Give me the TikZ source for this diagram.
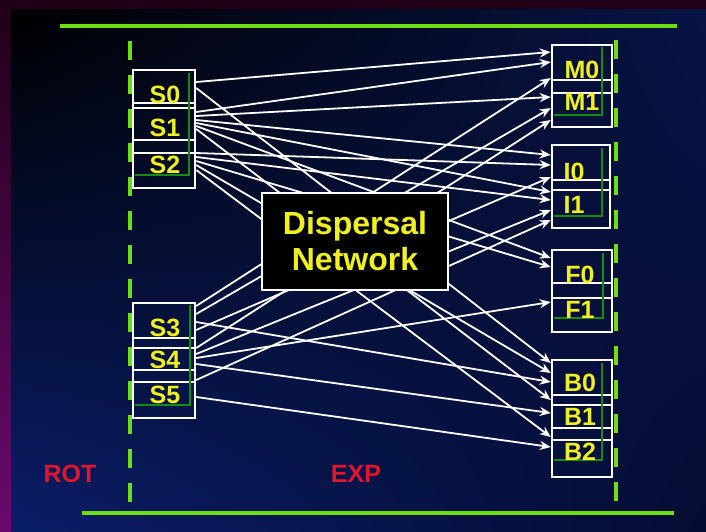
\documentclass[tikz,border=0pt]{standalone}
\usepackage{fontspec}
\setmainfont{Liberation Sans}
\usetikzlibrary{arrows.meta,shadings}
\definecolor{grn}{RGB}{110,222,20}
\definecolor{dgrn}{RGB}{20,140,20}
\definecolor{yel}{RGB}{240,240,30}
\definecolor{redl}{RGB}{225,22,45}
\definecolor{navyA}{RGB}{8,20,70}
\definecolor{navyB}{RGB}{10,30,105}
\definecolor{navyC}{RGB}{4,12,50}
\definecolor{purp}{RGB}{105,10,110}
\definecolor{maro}{RGB}{32,0,22}
\tikzset{
  port/.style={draw=white, line width=2.4pt, inner sep=0pt, minimum width=#1},
  port/.default=62pt,
  lab/.style={text=yel, inner sep=0pt, font=\fontsize{25}{25}\selectfont\bfseries},
  side/.style={text=redl, inner sep=0pt, font=\fontsize{25}{25}\selectfont\bfseries},
  wire/.style={draw=white, line width=1.8pt, -{Stealth[length=11pt,width=9pt]}},
  rail/.style={draw=grn, line width=3.5pt},
  dashrail/.style={draw=grn, line width=4.5pt, dash pattern=on 19pt off 15pt},
  inner/.style={draw=dgrn, line width=2pt}
}
\begin{document}
\begin{tikzpicture}[x=1pt,y=-1pt]
\useasboundingbox (0,0) rectangle (706,531);
% background
\shade[upper left=black, upper right=navyA, lower left=navyB, lower right=navyC] (11,9) rectangle (706,531);
\shade[top color=maro, bottom color=purp] (0,0) rectangle (11,531);
\fill[maro] (0,0) rectangle (706,9);
% green rails
\draw[rail] (60,26) -- (677,26);
\draw[rail] (82,513) -- (674,513);
\draw[dashrail] (130,502) -- (130,30);
\draw[dashrail] (616,501) -- (616,26);
% source ports
\node[port, minimum height=38pt] (S0) at (164,89) {};
\node[port, minimum height=50pt] (S1) at (164,128) {};
\node[port, minimum height=48pt] (S2) at (164,164) {};
\node[port, minimum height=45pt] (S3) at (164,325.5) {};
\node[port, minimum height=44pt] (S4) at (164,360) {};
\node[port, minimum height=48pt] (S5) at (164,394) {};
% destination ports
\node[port=60pt, minimum height=48pt] (M0) at (582,69) {};
\node[port=60pt, minimum height=47pt] (M1) at (582,103.5) {};
\node[port=58pt, minimum height=45pt] (I0) at (581,167.5) {};
\node[port=58pt, minimum height=48pt] (I1) at (581,204) {};
\node[port=60pt, minimum height=48pt] (F0) at (582,274) {};
\node[port=60pt, minimum height=49pt] (F1) at (582,307.5) {};
\node[port=60pt, minimum height=45pt] (B0) at (582,382.5) {};
\node[port=60pt, minimum height=45pt] (B1) at (582,417.5) {};
\node[port=60pt, minimum height=49pt] (B2) at (582,452.5) {};
% inner green shadows
\draw[inner] (135,175) -- (189,175) -- (189,73);
\draw[inner] (135,405) -- (190,405) -- (190,305);
\draw[inner] (554,115) -- (602,115) -- (602,47);
\draw[inner] (554,216) -- (602,216) -- (602,148);
\draw[inner] (554,318) -- (603,318) -- (603,253);
\draw[inner] (554,460) -- (602,460) -- (602,363);
% labels
\node[lab] (tS0) at (165,95) {S0};
\node[lab] (tS1) at (165,128) {S1};
\node[lab] (tS2) at (165,165) {S2};
\node[lab] (tS3) at (165,328) {S3};
\node[lab] (tS4) at (165,360) {S4};
\node[lab] (tS5) at (165,395) {S5};
\node[lab] (tM0) at (582,70) {M0};
\node[lab] (tM1) at (582,102) {M1};
\node[lab] (tI0) at (574,172) {I0};
\node[lab] (tI1) at (574,205) {I1};
\node[lab] (tF0) at (580,275) {F0};
\node[lab] (tF1) at (580,310) {F1};
\node[lab] (tB0) at (580,383) {B0};
\node[lab] (tB1) at (580,417) {B1};
\node[lab] (tB2) at (580,452) {B2};
% connections
\draw[wire] ([yshift=7pt]S0.east) -- ([yshift=17pt]M0.west);
\draw[wire] ([yshift=1pt]S0.east) -- ([yshift=19.5pt]B0.west);
\draw[wire] ([yshift=16pt]S1.east) -- ([yshift=7pt]M0.west);
\draw[wire] ([yshift=12pt]S1.east) -- ([yshift=6.5pt]M1.west);
\draw[wire] ([yshift=8pt]S1.east) -- ([yshift=12.5pt]I0.west);
\draw[wire] ([yshift=5pt]S1.east) -- ([yshift=12pt]I1.west);
\draw[wire] ([yshift=2pt]S1.east) -- ([yshift=16pt]F0.west);
\draw[wire] ([yshift=-1pt]S1.east) -- ([yshift=17.5pt]B1.west);
\draw[wire] ([yshift=11pt]S2.east) -- ([yshift=2.5pt]I0.west);
\draw[wire] ([yshift=7pt]S2.east) -- ([yshift=4pt]I1.west);
\draw[wire] ([yshift=3pt]S2.east) -- ([yshift=7pt]F0.west);
\draw[wire] ([yshift=-1pt]S2.east) -- ([yshift=9.5pt]B0.west);
\draw[wire] ([yshift=-6pt]S2.east) -- ([yshift=15.5pt]B2.west);
\draw[wire] ([yshift=19.5pt]S3.east) -- ([yshift=-9pt]M0.west);
\draw[wire] ([yshift=11.5pt]S3.east) -- ([yshift=-4.5pt]M1.west);
\draw[wire] ([yshift=3.5pt]S3.east) -- ([yshift=0.5pt]B0.west);
\draw[wire] ([yshift=-4.5pt]S3.east) -- ([yshift=-9.5pt]I0.west);
\draw[wire] ([yshift=12pt]S4.east) -- ([yshift=-16.5pt]M1.west);
\draw[wire] ([yshift=6pt]S4.east) -- ([yshift=-6pt]I1.west);
\draw[wire] ([yshift=2pt]S4.east) -- ([yshift=5.5pt]F1.west);
\draw[wire] ([yshift=-4pt]S4.east) -- ([yshift=4.5pt]B1.west);
\draw[wire] ([yshift=14pt]S5.east) -- ([yshift=-16pt]I1.west);
\draw[wire] ([yshift=-3pt]S5.east) -- ([yshift=5.5pt]B2.west);
% dispersal network
\node[draw=white, fill=black, line width=2.5pt, minimum width=186pt, minimum height=97pt,
      text=yel, align=center, font=\fontsize{32}{36}\selectfont\bfseries] (DN) at (355,241.5) {Dispersal\\Network};
% side labels
\node[side] (ROT) at (70,474) {ROT};
\node[side] (EXP) at (356,474) {EXP};
\end{tikzpicture}
\end{document}
